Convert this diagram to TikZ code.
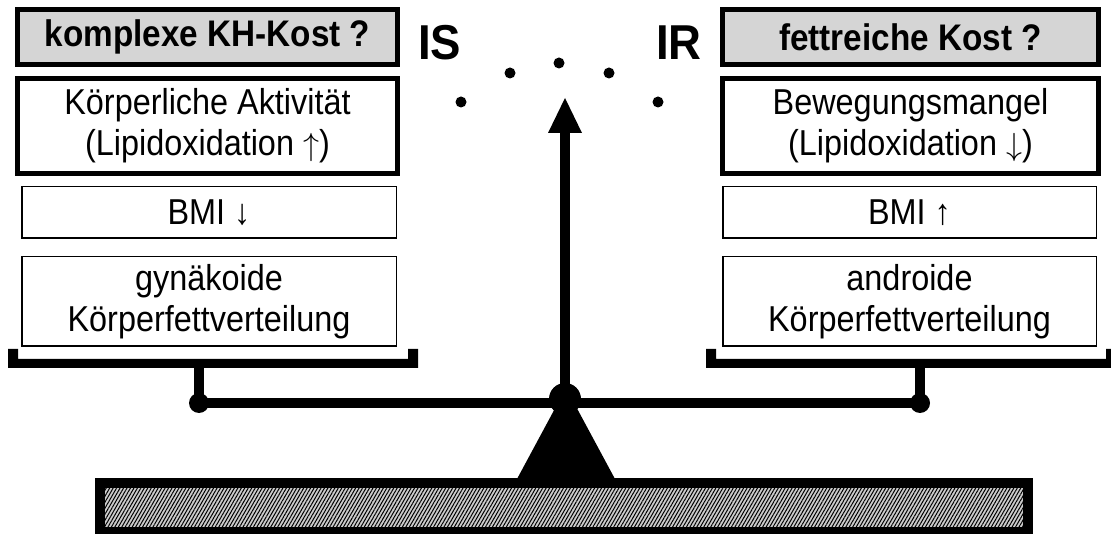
\RequirePackage{fix-cm}
\documentclass[tikz,border=0pt]{standalone}
\usepackage{fontspec}
\setmainfont{Liberation Sans}
\newfontfamily\narrowsans[FakeStretch=0.9]{Liberation Sans}
\newfontfamily\labelsans[FakeStretch=0.93]{Liberation Sans}
\usetikzlibrary{patterns.meta}
\newcommand{\uparr}{{\fontsize{32}{32}\selectfont$\uparrow$}}
\newcommand{\downarr}{{\fontsize{32}{32}\selectfont$\downarrow$}}
\begin{document}
\begin{tikzpicture}[x=1pt,y=-1pt,
  tagbox/.style={draw=black, line width=5pt, fill=gray!33, inner sep=0pt,
    font=\narrowsans\fontsize{37}{40}\selectfont\bfseries},
  thickbox/.style={draw=black, line width=5pt, fill=white, inner sep=0pt,
    align=center, font=\narrowsans\fontsize{36}{41}\selectfont},
  thinbox/.style={draw=black, line width=1.5pt, fill=white, inner sep=0pt,
    align=center, font=\narrowsans\fontsize{36}{41}\selectfont},
  bar/.style={line width=10pt},
  label/.style={font=\labelsans\fontsize{49}{52}\selectfont\bfseries, inner sep=0pt, anchor=base west}]
\useasboundingbox (0,0) rectangle (1111,534);
\clip (0,0) rectangle (1111,534);

% left pan: arguments for insulin sensitivity
\node[tagbox, minimum width=380pt, minimum height=55pt] (kh) at (207.5,37) {komplexe KH-Kost ?};
\node[thickbox, minimum width=380pt, minimum height=95pt] (akt) at (207.5,126) {Körperliche Aktivität\\(Lipidoxidation \uparr)};
\node[thinbox, minimum width=374.5pt, minimum height=51.5pt] (bmil) at (209,212.5) {BMI ↓};
\node[thinbox, minimum width=374.5pt, minimum height=89.5pt] (gyn) at (209,301.5) {gynäkoide\\Körperfettverteilung};

% right pan: arguments for insulin resistance
\node[tagbox, minimum width=376pt, minimum height=55pt] (fett) at (910.5,37) {fettreiche Kost ?};
\node[thickbox, minimum width=376pt, minimum height=95pt] (bew) at (910.5,126) {Bewegungsmangel\\(Lipidoxidation \downarr)};
\node[thinbox, minimum width=373.5pt, minimum height=51.5pt] (bmir) at (909.5,212.5) {BMI ↑};
\node[thinbox, minimum width=373.5pt, minimum height=89.5pt] (andr) at (909.5,301.5) {androide\\Körperfettverteilung};

% scale labels
\node[label] (is) at (418,60) {IS};
\node[label] (ir) at (656,60) {IR};

% dial dots
\foreach \px/\py [count=\i] in {461/102, 510/73, 559/63, 609/73, 658/102}
  \fill (\px,\py) circle[radius=5.5pt] coordinate (dot\i);

% key points of the balance
\coordinate (lpan) at (199,366);
\coordinate (rpan) at (920,366);
\coordinate (lend) at (199,403);
\coordinate (rend) at (920,403);
\coordinate (pivot) at (565,399);
\coordinate (tip) at (565,98);

% pans
\fill (8,349) -- (18,349) -- (18,359) -- (408,359) -- (408,349) -- (418,349)
  -- (418,368) -- (8,368) -- cycle;
\fill (706,349) -- (716,349) -- (716,359) -- (1106,359) -- (1106,349) -- (1116,349)
  -- (1116,368) -- (706,368) -- cycle;

% stems and beam
\draw[bar] (lpan) -- (lend);
\draw[bar] (rpan) -- (rend);
\draw[bar] (lend) -- (rend);
\fill (lend) circle[radius=10pt];
\fill (rend) circle[radius=10pt];

% fulcrum
\fill (566,388) -- (615,479) -- (517,479) -- cycle;
\fill (pivot) circle[radius=16pt];

% pointer
\draw[bar] (pivot) -- (565,130);
\fill (tip) -- (582,133) -- (548,133) -- cycle;

% base
\draw[line width=10pt, preaction={fill=gray!40},
  pattern={Lines[angle=60,distance=3pt,line width=1pt]}, pattern color=black]
  (100,483) rectangle (1028,532);
\end{tikzpicture}
\end{document}
